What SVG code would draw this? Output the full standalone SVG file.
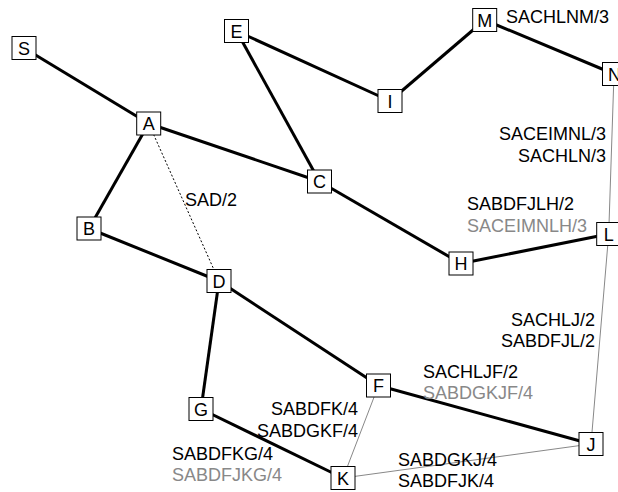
<svg xmlns="http://www.w3.org/2000/svg" width="618" height="492" viewBox="0 0 618 492">
<style>
text{font-family:"Liberation Sans",Arial,sans-serif;font-size:18px;fill:#000}
.n rect{fill:#fff;stroke:#000;stroke-width:1}
.n text{text-anchor:middle}
.thick{stroke:#000;stroke-width:3;fill:none}
.thin{stroke:#888;stroke-width:1;fill:none}
.dot{stroke:#000;stroke-width:1;stroke-dasharray:2 2;fill:none}
.g{fill:#888}
.r{text-anchor:end}
</style>
<rect width="618" height="492" fill="#fff"/>
<g id="connectors">
<line class="thick" x1="24" y1="48" x2="148.7" y2="123.5"/>
<line class="thick" x1="148.7" y1="123.5" x2="89" y2="228.5"/>
<line class="thick" x1="148.7" y1="123.5" x2="319.5" y2="181.5"/>
<line class="thick" x1="236.5" y1="31" x2="319.5" y2="181.5"/>
<line class="thick" x1="236.5" y1="31" x2="390" y2="101"/>
<line class="thick" x1="390" y1="101" x2="484.7" y2="20"/>
<line class="thick" x1="484.7" y1="20" x2="614" y2="74"/>
<line class="thick" x1="319.5" y1="181.5" x2="461" y2="263.5"/>
<line class="thick" x1="461" y1="263.5" x2="608.7" y2="234"/>
<line class="thick" x1="89" y1="228.5" x2="219" y2="281"/>
<line class="thick" x1="219" y1="281" x2="378.5" y2="385.5"/>
<line class="thick" x1="219" y1="281" x2="201" y2="409"/>
<line class="thick" x1="201" y1="409" x2="343" y2="478"/>
<line class="thick" x1="378.5" y1="385.5" x2="591" y2="444"/>
<line class="thin" x1="614" y1="74" x2="608.7" y2="234"/>
<line class="thin" x1="608.7" y1="234" x2="591" y2="444"/>
<line class="thin" x1="378.5" y1="385.5" x2="343" y2="478"/>
<line class="thin" x1="343" y1="478" x2="591" y2="444"/>
<line class="dot" x1="148.7" y1="123.5" x2="219" y2="281"/>
</g>
<g id="labels">
<text x="506" y="23">SACHLNM/3</text>
<text x="185" y="206">SAD/2</text>
<text class="r" x="606" y="140">SACEIMNL/3</text>
<text class="r" x="606" y="162">SACHLN/3</text>
<text x="467" y="210">SABDFJLH/2</text>
<text class="g" x="467" y="232">SACEIMNLH/3</text>
<text class="r" x="595" y="326">SACHLJ/2</text>
<text class="r" x="595" y="347">SABDFJL/2</text>
<text x="423" y="378">SACHLJF/2</text>
<text class="g" x="423" y="399">SABDGKJF/4</text>
<text class="r" x="358" y="415">SABDFK/4</text>
<text class="r" x="358" y="437">SABDGKF/4</text>
<text x="172" y="460">SABDFKG/4</text>
<text class="g" x="172" y="481">SABDFJKG/4</text>
<text x="398" y="466">SABDGKJ/4</text>
<text x="398" y="487">SABDFJK/4</text>
</g>
<g id="S" class="n"><rect x="12" y="36.5" width="24" height="23"/><text x="24" y="54.5">S</text></g>
<g id="A" class="n"><rect x="136.7" y="112" width="24" height="23"/><text x="148.7" y="130">A</text></g>
<g id="E" class="n"><rect x="224.5" y="19.5" width="24" height="23"/><text x="236.5" y="37.5">E</text></g>
<g id="B" class="n"><rect x="77" y="217" width="24" height="23"/><text x="89" y="235">B</text></g>
<g id="C" class="n"><rect x="307.5" y="170" width="24" height="23"/><text x="319.5" y="188">C</text></g>
<g id="M" class="n"><rect x="472.7" y="8.5" width="24" height="23"/><text x="484.7" y="26.5">M</text></g>
<g id="I" class="n"><rect x="378" y="89.5" width="24" height="23"/><text x="390" y="107.5">I</text></g>
<g id="N" class="n"><rect x="602.5" y="62.5" width="24" height="23"/><text x="614.5" y="80.5">N</text></g>
<g id="L" class="n"><rect x="596.7" y="222.5" width="24" height="23"/><text x="608.7" y="240.5">L</text></g>
<g id="H" class="n"><rect x="449" y="252" width="24" height="23"/><text x="461" y="270">H</text></g>
<g id="D" class="n"><rect x="207" y="269.5" width="24" height="23"/><text x="219" y="287.5">D</text></g>
<g id="G" class="n"><rect x="189" y="397.5" width="24" height="23"/><text x="201" y="415.5">G</text></g>
<g id="F" class="n"><rect x="366.5" y="374" width="24" height="23"/><text x="378.5" y="392">F</text></g>
<g id="J" class="n"><rect x="579" y="432.5" width="24" height="23"/><text x="591" y="450.5">J</text></g>
<g id="K" class="n"><rect x="331" y="466.5" width="24" height="23"/><text x="343" y="484.5">K</text></g>
</svg>
